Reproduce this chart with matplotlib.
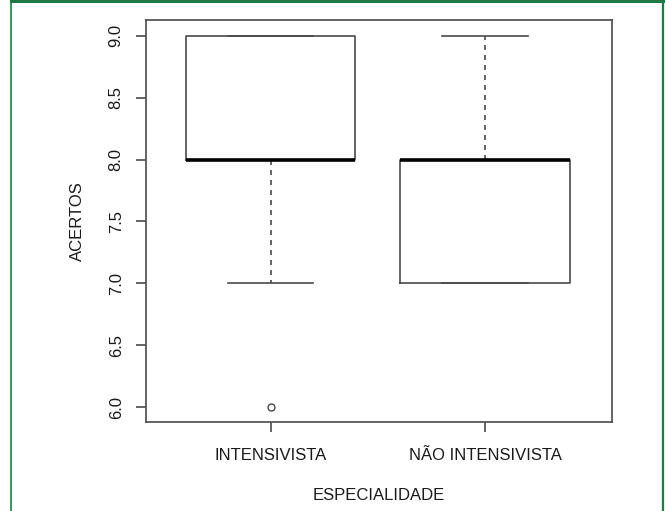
import matplotlib.pyplot as plt
from matplotlib.lines import Line2D

plt.rcParams['font.family'] = ['Liberation Sans', 'DejaVu Sans']

grupos = ["INTENSIVISTA", "NÃO INTENSIVISTA"]
q1 = [8.0, 7.0]
mediana = [8.0, 8.0]
q3 = [9.0, 8.0]
whis_min = [7.0, 7.0]
whis_max = [9.0, 9.0]
outliers = [[6.0], []]
yticks = [6.0, 6.5, 7.0, 7.5, 8.0, 8.5, 9.0]

stats = []
for i, nome in enumerate(grupos):
    stats.append({
        "label": nome, "q1": q1[i], "med": mediana[i], "q3": q3[i],
        "whislo": whis_min[i], "whishi": whis_max[i], "fliers": outliers[i],
    })

fig = plt.figure(figsize=(6.65, 5.11), dpi=100)
ax = fig.add_axes([0.2195, 0.1742, 0.7008, 0.7867])

cinza = "#4a4a4a"
texto = "#1a1a1a"
fs = 12
ax.bxp(stats, positions=[1, 2], widths=0.79,
       boxprops=dict(color=cinza, linewidth=1.2),
       medianprops=dict(color="black", linewidth=2.6, solid_capstyle="butt"),
       whiskerprops=dict(color=cinza, linewidth=1.2, linestyle=(0, (3, 3))),
       capprops=dict(color=cinza, linewidth=1.2),
       capwidths=0.4,
       flierprops=dict(marker="o", markersize=5, markerfacecolor="none",
                       markeredgecolor=cinza, markeredgewidth=1.0))

ax.set_xlim(0.42, 2.59)
ax.set_ylim(5.879, 9.129)
ax.set_yticks(yticks)
ax.set_yticklabels([f"{v:.1f}" for v in yticks], rotation=90, va="center",
                   fontsize=fs, color=texto)
ax.set_xticks([1, 2])
ax.set_xticklabels(grupos, fontsize=fs, color=texto)
ax.tick_params(direction="out", length=7, width=1.2, color=cinza)
ax.tick_params(axis="y", pad=9)
ax.tick_params(axis="x", pad=12)
for s in ax.spines.values():
    s.set_color(cinza)
    s.set_linewidth(1.2)

ax.set_ylabel("ACERTOS", fontsize=fs, color=texto, labelpad=17)
ax.set_xlabel("ESPECIALIDADE", fontsize=fs, color=texto, labelpad=18)

# moldura verde em volta da figura
verde = "#1f7a45"
fig.add_artist(Line2D([11 / 665, 11 / 665], [0, 1], color="#3a9c63", lw=1.5))
fig.add_artist(Line2D([11 / 665, 663 / 665], [1 - 1.5 / 511, 1 - 1.5 / 511], color=verde, lw=2.2))
fig.add_artist(Line2D([663 / 665, 663 / 665], [0, 1], color=verde, lw=1.6))

fig.savefig("out.png", dpi=100)
